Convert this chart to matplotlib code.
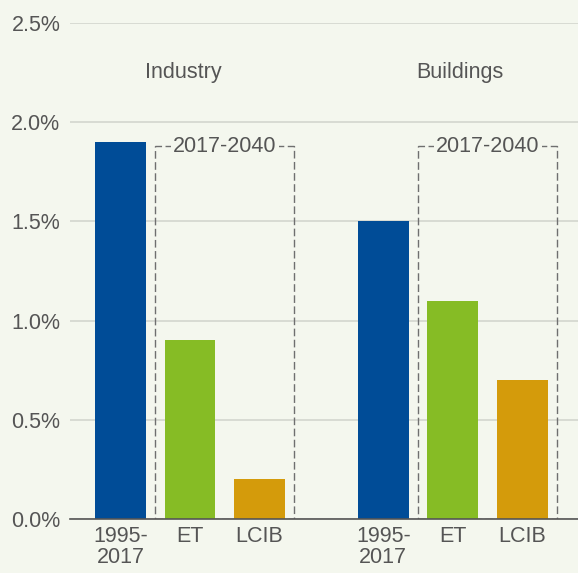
import matplotlib
matplotlib.use("Agg")
import matplotlib.pyplot as plt
from matplotlib.patches import Rectangle

groups = ["Industry", "Buildings"]
categories = ["1995-\n2017", "ET", "LCIB"]
values = {"Industry": [1.9, 0.9, 0.2], "Buildings": [1.5, 1.1, 0.7]}
colors = ["#004c97", "#86bc25", "#d49b0b"]
period_label = "2017-2040"
box_top = 1.88
yticks = [0.0, 0.5, 1.0, 1.5, 2.0, 2.5]

bg = "#f4f7ee"
txt = "#555555"
plt.rcParams['font.family'] = ['Liberation Sans', 'DejaVu Sans']
FS = 15.5

fig = plt.figure(figsize=(5.78, 5.73), dpi=100, facecolor=bg)
ax = fig.add_axes([70/578, 1-519/573, 508/578, (519-23)/573])
ax.set_facecolor(bg)

offsets = [0.0, 3.78]
label_pos = [0.9, 1.1]
width = 0.73
xt, xl = [], []
for g, off, lp in zip(groups, offsets, label_pos):
    xs = [off + i for i in range(len(categories))]
    ax.bar(xs, values[g], width=width, color=colors, zorder=3)
    xt += xs
    xl += categories
    r = Rectangle((off + 0.5, 0), 2.0, box_top, fill=False, ls=(0, (5.5, 2.5)),
                  lw=1.0, ec="#6f6f6f", zorder=2)
    ax.add_patch(r)
    ax.text(off + 1.5, box_top, period_label, ha="center", va="center",
            fontsize=FS, color=txt, zorder=4,
            bbox=dict(boxstyle="square,pad=0.1", fc=bg, ec="none"))
    ax.text(off + lp, 2.25, g, ha="center", va="center", fontsize=FS, color=txt)

ax.set_xlim(-0.727, 6.58)
ax.set_ylim(0, 2.5)
ax.set_yticks(yticks)
ax.set_yticklabels([f"{v:.1f}%" for v in yticks], fontsize=FS, color=txt)
ax.set_xticks(xt)
ax.set_xticklabels(xl, fontsize=FS, color=txt, linespacing=1.0)
ax.tick_params(axis="both", length=0)
ax.tick_params(axis="y", pad=7)
ax.tick_params(axis="x", pad=5)
ax.grid(axis="y", color="#d3d6ce", lw=1.2, zorder=0)
for s in ["top", "right", "left"]:
    ax.spines[s].set_visible(False)
ax.spines["bottom"].set_color("#555555")
ax.spines["bottom"].set_linewidth(1.2)
ax.spines["bottom"].set_zorder(5)

fig.savefig("out.png", dpi=100, facecolor=bg)
